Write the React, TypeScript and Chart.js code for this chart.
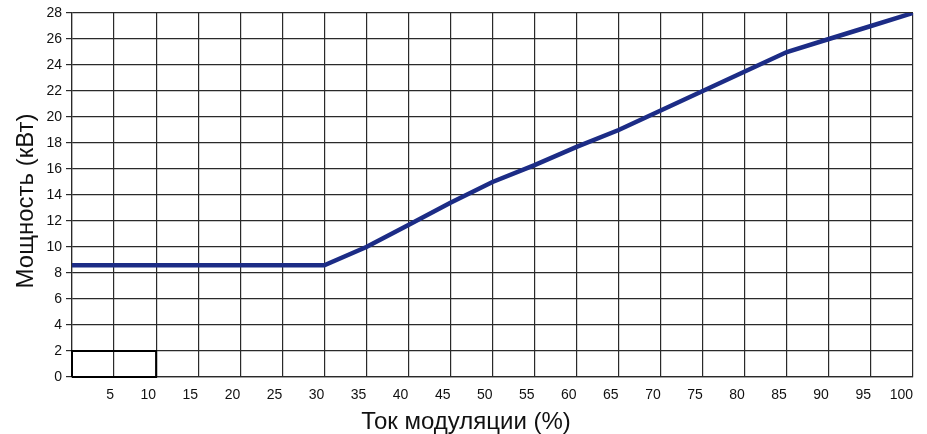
import React, { useEffect, useRef } from "react";
import { Chart, registerables } from "chart.js";

Chart.register(...registerables);

const modulation = [0, 30, 35, 40, 45, 50, 55, 60, 65, 70, 75, 80, 85, 90, 95, 100];
const power = [8.6, 8.6, 10, 11.7, 13.4, 15, 16.3, 17.7, 19, 20.5, 22, 23.5, 25, 26, 27, 28];
const boxX = [0, 0, 10, 10, 0];
const boxY = [0, 2, 2, 0, 0];
const xTitle = "Ток модуляции (%)";
const yTitle = "Мощность (кВт)";

const FONT = '"Liberation Sans", Arial, sans-serif';

export default function App() {
  const ref = useRef<HTMLCanvasElement>(null);
  useEffect(() => {
    if (!ref.current) return;
    const titlePlugin = {
      id: "titles",
      afterDraw(chart: any) {
        const ctx = chart.ctx;
        ctx.save();
        ctx.fillStyle = "#111";
        ctx.font = `24px ${FONT}`;
        ctx.textAlign = "center";
        ctx.textBaseline = "alphabetic";
        ctx.fillText(xTitle, 466, 429);
        ctx.translate(32.5, 201);
        ctx.rotate(-Math.PI / 2);
        ctx.fillText(yTitle, 0, 0);
        ctx.restore();
      },
    };
    const chart = new Chart(ref.current, {
      type: "line",
      data: {
        datasets: [
          {
            data: modulation.map((x, i) => ({ x, y: power[i] })),
            borderColor: "#1c2c86",
            borderWidth: 4.5,
            pointRadius: 0,
            tension: 0,
            order: 0,
          },
          {
            data: boxX.map((x, i) => ({ x, y: boxY[i] })),
            borderColor: "#000",
            borderWidth: 2,
            pointRadius: 0,
            tension: 0,
            clip: false as any,
            order: 1,
          },
        ],
      },
      options: {
        animation: false,
        responsive: true,
        maintainAspectRatio: false,
        layout: { padding: { top: 13, right: 14, left: 0, bottom: 0 } },
        plugins: { legend: { display: false }, tooltip: { enabled: false } },
        scales: {
          x: {
            type: "linear",
            min: 0,
            max: 100,
            ticks: {
              stepSize: 5,
              align: "end",
              padding: 10,
              color: "#111",
              font: { family: FONT, size: 14 },
              callback: (v: any) => (v === 0 ? "" : String(v)),
            },
            grid: { color: "#2a2a2a", lineWidth: 1.2, drawTicks: false },
            border: { color: "#2a2a2a", width: 1.2 },
            afterFit(scale: any) {
              scale.height = 57;
              scale.paddingLeft = 0;
              scale.paddingRight = 0;
            },
          },
          y: {
            min: 0,
            max: 28,
            ticks: {
              stepSize: 2,
              padding: 4,
              color: "#111",
              font: { family: FONT, size: 14 },
            },
            grid: { color: "#2a2a2a", lineWidth: 1.2, tickLength: 6 },
            border: { color: "#2a2a2a", width: 1.2 },
            afterFit(scale: any) {
              scale.width = 72;
              scale.paddingTop = 0;
              scale.paddingBottom = 0;
            },
          },
        },
      },
      plugins: [titlePlugin],
    });
    return () => chart.destroy();
  }, []);
  return (
    <div style={{ position: "absolute", left: 0, top: 0, width: 927, height: 434 }}>
      <canvas ref={ref} />
    </div>
  );
}
